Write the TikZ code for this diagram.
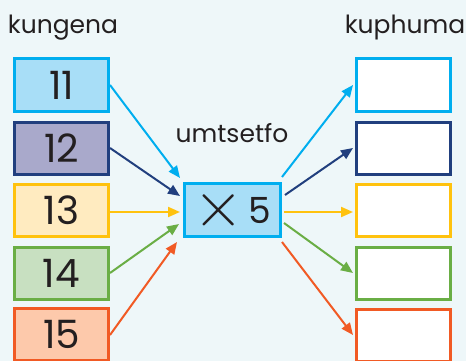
\documentclass[tikz,border=0pt]{standalone}
\usepackage{fontspec}
\setmainfont{Poppins}
\usetikzlibrary{arrows.meta}
\definecolor{bg}{HTML}{EEF7F9}
\definecolor{cyanB}{HTML}{00AEEF}\definecolor{cyanF}{HTML}{A8DEF7}
\definecolor{navyB}{HTML}{213F7E}\definecolor{navyF}{HTML}{A9A9CB}
\definecolor{yelB}{HTML}{FFC20E}\definecolor{yelF}{HTML}{FFEBC0}
\definecolor{grnB}{HTML}{6AAE45}\definecolor{grnF}{HTML}{C8E0C1}
\definecolor{orgB}{HTML}{F15A24}\definecolor{orgF}{HTML}{FDC9AB}
\definecolor{txt}{HTML}{231F20}
\tikzset{
  numbox/.style={draw=#1B, fill=#1F, line width=3pt, minimum width=94pt, minimum height=52pt, inner sep=0pt, text=txt, font=\fontsize{39}{39}\selectfont},
  outbox/.style={draw=#1B, fill=white, line width=3pt, minimum width=94pt, minimum height=52pt, inner sep=0pt},
  conn/.style={draw=#1B, line width=2pt, -{Triangle[length=12pt,width=10pt]}},
  lbl/.style={text=txt, font=\fontsize{25}{25}\selectfont, inner sep=0pt}
}
\begin{document}
\begin{tikzpicture}[x=1pt,y=-1pt]
\useasboundingbox[fill=bg] (0,0) rectangle (466,361);
\node[lbl] (kin) at (63,28) {kungena};
\node[lbl] (kout) at (405,28) {kuphuma};
\node[lbl] (um) at (232,133) {umtsetfo};
\node[numbox=cyan] (L1) at (61.5,85) {11};
\node[numbox=navy] (L2) at (61.5,148) {12};
\node[numbox=yel] (L3) at (61.5,210) {13};
\node[numbox=grn] (L4) at (61.5,273) {14};
\node[numbox=org] (L5) at (61.5,334) {15};
\node[numbox=cyan, minimum width=96pt, minimum height=53pt, font=\fontsize{36}{36}\selectfont] (C) at (232.5,210) {\raisebox{-3pt}{\scalebox{2.6}{$\times$}}\hspace{5pt}5};
\node[outbox=cyan] (R1) at (403.5,85) {};
\node[outbox=navy] (R2) at (403.5,148) {};
\node[outbox=yel] (R3) at (403.5,210) {};
\node[outbox=grn] (R4) at (403.5,273) {};
\node[outbox=org] (R5) at (403.5,335) {};
\coordinate (i1) at (180,178);
\coordinate (i2) at (180,196);
\coordinate (i3) at (180,212);
\coordinate (i4) at (179,224);
\coordinate (i5) at (177,242);
\coordinate (o1) at (282,177);
\coordinate (o2) at (285,195);
\coordinate (o3) at (284,212);
\coordinate (o4) at (284,223);
\coordinate (o5) at (282,242);
\draw[conn=cyan] (L1.east) -- (i1);
\draw[conn=navy] (L2.east) -- (i2);
\draw[conn=yel] (L3.east |- i3) -- (i3);
\draw[conn=grn] (L4.east) -- (i4);
\draw[conn=org] (L5.east |- 0,335) -- (i5);
\draw[conn=cyan] (o1) -- ([xshift=-2pt]R1.west);
\draw[conn=navy] (o2) -- ([xshift=-2pt]R2.west);
\draw[conn=yel] (o3) -- ([xshift=-2pt]R3.west |- o3);
\draw[conn=grn] (o4) -- ([xshift=-2pt]R4.west);
\draw[conn=org] (o5) -- ([xshift=-2pt]R5.west);
\end{tikzpicture}
\end{document}
